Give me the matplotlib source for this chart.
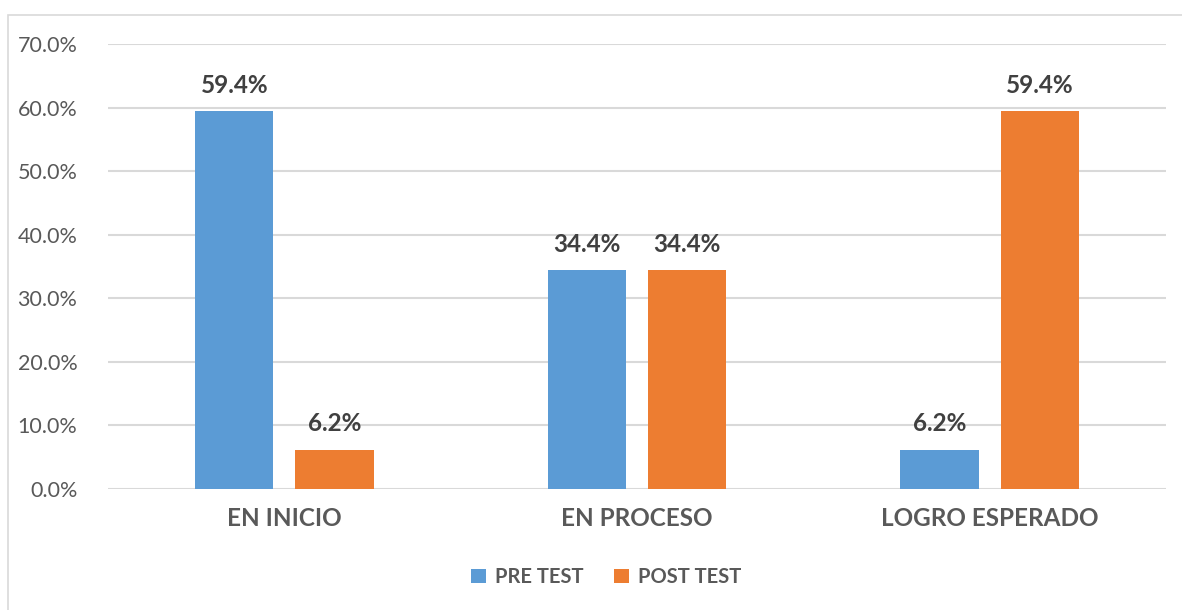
import matplotlib
matplotlib.use("Agg")
import matplotlib.pyplot as plt
import numpy as np
from matplotlib.patches import Rectangle

categories = ["EN INICIO", "EN PROCESO", "LOGRO ESPERADO"]
pre_test = [59.4, 34.4, 6.2]
post_test = [6.2, 34.4, 59.4]
series_names = ["PRE TEST", "POST TEST"]
yticks = [0, 10, 20, 30, 40, 50, 60, 70]

BLUE = "#5B9BD5"
ORANGE = "#ED7D31"
GRID = "#D9D9D9"
TICK_COL = "#595959"
LABEL_COL = "#404040"

plt.rcParams["font.family"] = ["Lato", "DejaVu Sans"]

W, H = 1182, 610
fig = plt.figure(figsize=(W / 100, H / 100), dpi=100)

# chart frame (cropped at right and bottom)
fig.patches.append(Rectangle((8 / W, -0.1), 1.2, (H - 15) / H + 0.1,
                             transform=fig.transFigure, fill=False,
                             edgecolor="#D9D9D9", linewidth=1.2))

ax = fig.add_axes([108 / W, 1 - 489 / H, (1166 - 108) / W, (489 - 44) / H])
x = np.arange(len(categories))
bw = 0.222
off = 0.142
b1 = ax.bar(x - off, pre_test, bw, color=BLUE, label=series_names[0], zorder=3)
b2 = ax.bar(x + off, post_test, bw, color=ORANGE, label=series_names[1], zorder=3)

for bars, vals in ((b1, pre_test), (b2, post_test)):
    for b, v in zip(bars, vals):
        ax.text(b.get_x() + b.get_width() / 2, v + 4.1, f"{v:.1f}%",
                ha="center", va="center", fontsize=17.5, fontweight="bold",
                color=LABEL_COL)

ax.set_xlim(-0.5, len(categories) - 0.5)
ax.set_ylim(0, 70)
ax.set_yticks(yticks)
ax.set_yticklabels([f"{t:.1f}%" for t in yticks])
ax.set_xticks(x)
ax.set_xticklabels(categories, fontweight="bold")
ax.tick_params(axis="y", length=0, pad=22, labelsize=15.5, labelcolor=TICK_COL)
ax.tick_params(axis="x", length=0, pad=13, labelsize=17.5, labelcolor=TICK_COL)
ax.grid(axis="y", color=GRID, linewidth=1.5, zorder=0)
for s in ax.spines.values():
    s.set_visible(False)

fig.legend(handles=[b1, b2], labels=series_names, loc="center",
           bbox_to_anchor=(606 / W, 1 - 577 / H), ncol=2, frameon=False,
           handlelength=0.75, handleheight=0.75, handletextpad=0.45,
           columnspacing=1.5, prop={"weight": "bold", "size": 14.5},
           labelcolor=TICK_COL)

fig.savefig("out.png", dpi=100)
